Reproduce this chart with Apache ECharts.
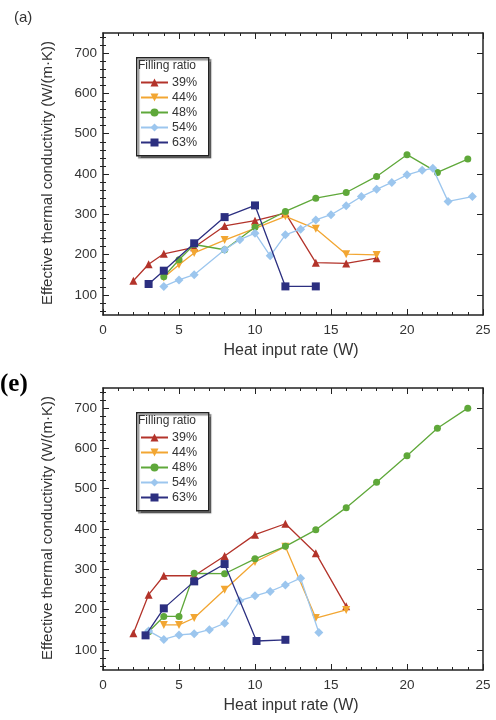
<!DOCTYPE html>
<html>
<head>
<meta charset="utf-8">
<script src="https://cdn.jsdelivr.net/npm/echarts@6/dist/echarts.min.js"></script>
<style>
  html, body { margin: 0; padding: 0; background: #fff; }
  #chart { width: 496px; height: 720px; }
</style>
</head>
<body>
<div id="chart"></div>
<script>
// Filling ratios shown in each legend
const ratios = ['39%', '44%', '48%', '54%', '63%'];

// Panel (a): [heat input W, conductivity W/(m·K)]
const a39 = [[2,135],[3,176],[4,202],[6,218],[8,271],[10,284],[12,303],[14,180],[16,178],[18,191]];
const a44 = [[4,143],[5,175],[6,204],[8,236],[10,265],[12,295],[14,264],[16,201],[18,199]];
const a48 = [[4,145],[5,187],[6,225],[8,212],[10,268],[12,307],[14,340],[16,354],[18,394],[20,448],[22,404],[24,437]];
const a54 = [[4,121],[5,137],[6,150],[8,212],[9,237],[10,253],[11,197],[12,249],[13,263],[14,286],[15,299],[16,321],[17,344],[18,362],[19,379],[20,398],[21,409],[21.7,414],[22.7,332],[24.3,344]];
const a63 = [[3,127],[4,160],[6,228],[8,293],[10,322],[12,121],[14,121]];

// Panel (e)
const e39 = [[2,141],[3,237],[4,284],[6,284],[8,333],[10,386],[12,413],[14,340],[16,208]];
const e44 = [[4,162],[5,162],[6,179],[8,249],[10,318],[12,356],[14,179],[16,199]];
const e48 = [[3,145],[4,183],[5,183],[6,290],[8,289],[10,326],[12,357],[14,398],[16,453],[18,516],[20,582],[22,650],[24,700]];
const e54 = [[3,147],[4,126],[5,137],[6,140],[7,150],[8,166],[9,222],[10,234],[11,245],[12,261],[13,278],[14.2,143]];
const e63 = [[2.8,136],[4,203],[6,270],[8,313],[10.1,122],[12,125]];

// Axis tick values
const yMajor = [100, 200, 300, 400, 500, 600, 700];
const yMinor = [];
for (let v = 60; v <= 740; v += 20) if (v % 100 !== 0) yMinor.push(v);

const panels = [
  { tag: '(a)', data: [a39, a44, a48, a54, a63], top: 33 },
  { tag: '(e)', data: [e39, e44, e48, e54, e63], top: 388 }
];

const colors = ['#b3332a', '#f2a632', '#5fa83a', '#9cc6ee', '#2c2f80'];
const symbols = ['triangle', 'path://M0,0 L10,0 L5,10 Z', 'circle', 'diamond', 'rect'];
const symbolSizes = [8, 8, 7, 9, 8];

const GL = 103, GW = 380, GH = 282;
const ink = '#222';
const textCol = '#333';
const font = 'Liberation Sans, Arial, sans-serif';

const grid = [], xAxis = [], yAxis = [], series = [], legend = [], graphic = [];

panels.forEach((p, i) => {
  grid.push({ left: GL, top: p.top, width: GW, height: GH });
  const axLine = { show: true, onZero: false, lineStyle: { color: ink, width: 1.5 } };
  // bottom and top x axes
  ['bottom', 'top'].forEach((pos, k) => {
    xAxis.push({
      gridIndex: i, type: 'value', position: pos, min: 0, max: 25, interval: 5,
      axisLine: axLine,
      axisTick: { show: true, inside: true, length: 6, lineStyle: { color: ink, width: 1 } },
      minorTick: { show: true, splitNumber: 5, length: 3, lineStyle: { color: ink, width: 1 } },
      axisLabel: { show: k === 0, margin: 8, fontSize: 13.5, color: textCol, fontFamily: font },
      splitLine: { show: false }
    });
  });
  // left and right y axes, each as a major + minor tick layer
  ['left', 'right'].forEach((pos, k) => {
    yAxis.push({
      gridIndex: i, type: 'value', position: pos, min: 50, max: 750,
      axisLine: axLine,
      axisTick: { show: true, inside: true, length: 6, customValues: yMajor, lineStyle: { color: ink, width: 1 } },
      axisLabel: { show: k === 0, customValues: yMajor, margin: 6, fontSize: 13.5, color: textCol, fontFamily: font },
      splitLine: { show: false }
    });
    yAxis.push({
      gridIndex: i, type: 'value', position: pos, min: 50, max: 750,
      axisLine: { show: false },
      axisTick: { show: true, inside: true, length: 3, customValues: yMinor, lineStyle: { color: ink, width: 1 } },
      axisLabel: { show: false },
      splitLine: { show: false }
    });
  });

  p.data.forEach((d, s) => {
    series.push({
      name: ratios[s], type: 'line', xAxisIndex: i * 2, yAxisIndex: i * 4,
      data: d, symbol: symbols[s], symbolSize: symbolSizes[s],
      color: colors[s],
      lineStyle: { width: 1.3, color: colors[s] },
      itemStyle: { color: colors[s] },
      z: 3 + s
    });
  });

  const boxTop = p.top + 24;
  // legend frame with title
  graphic.push({
    type: 'rect', left: 136, top: boxTop, z: 1,
    shape: { width: 72, height: 98 },
    style: { fill: '#fff', stroke: ink, lineWidth: 1.4, shadowBlur: 1, shadowOffsetX: 2, shadowOffsetY: 2, shadowColor: 'rgba(0,0,0,0.45)' }
  });
  graphic.push({
    type: 'text', left: 138, top: boxTop + 3, z: 2,
    style: { text: 'Filling ratio', fontSize: 12, fill: textCol, fontFamily: font }
  });
  legend.push({
    data: ratios, orient: 'vertical', left: 140, top: boxTop + 19, padding: 0,
    itemGap: 2, itemWidth: 27, itemHeight: 10, z: 5,
    textStyle: { fontSize: 12.5, color: textCol, fontFamily: font, padding: [0, 0, 0, -1] }
  });

  // axis titles
  graphic.push({
    type: 'text', z: 2,
    x: 48, y: p.top + GH / 2 - 1, rotation: Math.PI / 2,
    style: { text: 'Effective thermal conductivity (W/(m·K))', fontSize: 15, fill: textCol, fontFamily: font, align: 'center', verticalAlign: 'middle' }
  });
  graphic.push({
    type: 'text', z: 2,
    x: GL + GW / 2 - 2, y: p.top + GH + 36,
    style: { text: 'Heat input rate (W)', fontSize: 16, fill: textCol, fontFamily: font, align: 'center', verticalAlign: 'middle' }
  });
});

// panel tags
graphic.push({
  type: 'text', x: 14, y: 18,
  style: { text: '(a)', fontSize: 15, fill: textCol, fontFamily: font, verticalAlign: 'middle' }
});
graphic.push({
  type: 'text', x: 0, y: 385,
  style: { text: '(e)', fontSize: 25, fontWeight: 'bold', fill: '#000', fontFamily: 'Liberation Serif, Times New Roman, serif', verticalAlign: 'middle' }
});

const chart = echarts.init(document.getElementById('chart'), null, { renderer: 'canvas' });
chart.setOption({
  animation: false,
  backgroundColor: '#fff',
  grid, xAxis, yAxis, series, legend, graphic
});
</script>
</body>
</html>
